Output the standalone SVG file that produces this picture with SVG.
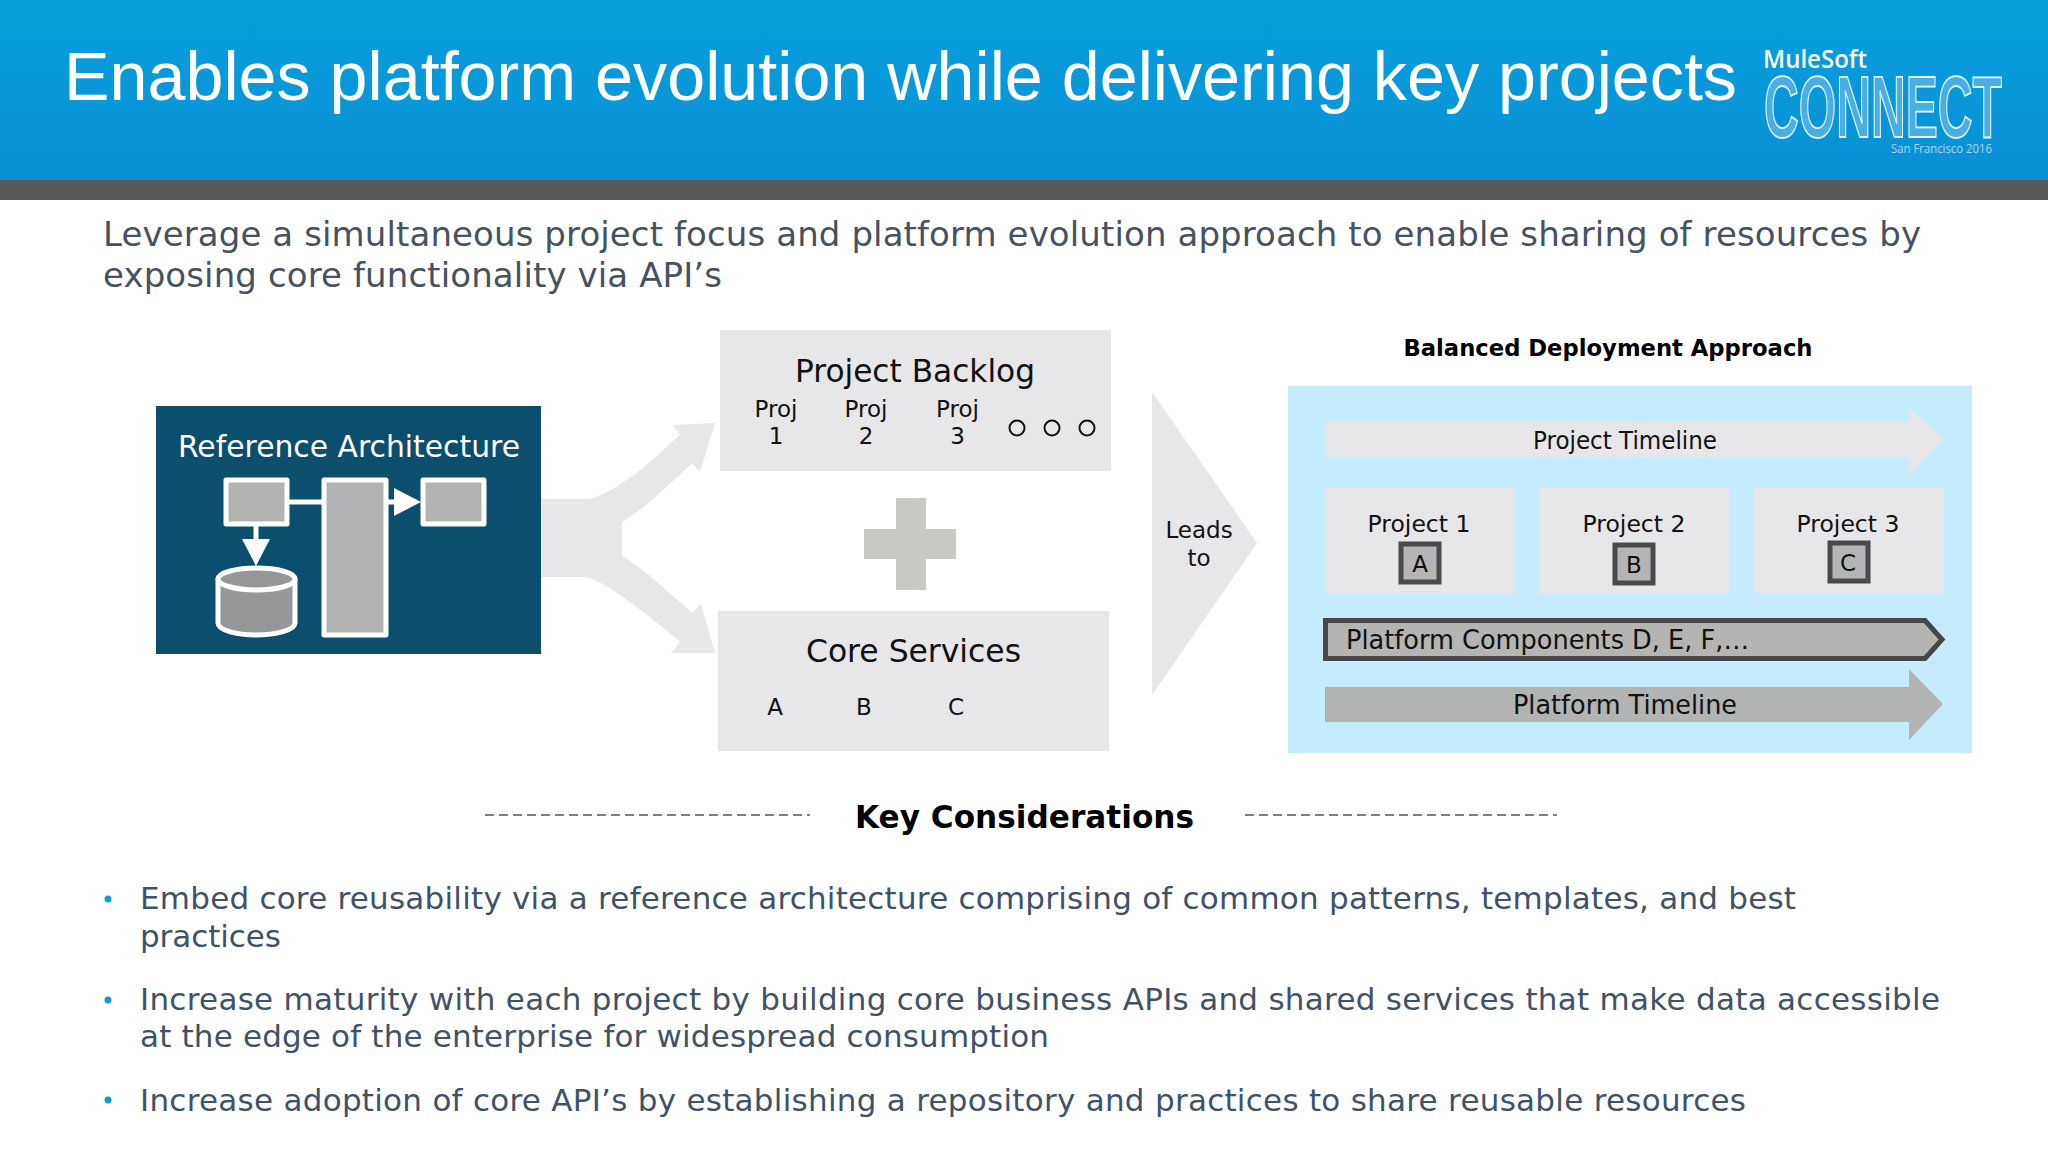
<svg xmlns="http://www.w3.org/2000/svg" width="2048" height="1152" viewBox="0 0 2048 1152">
<style>
text{font-family:"DejaVu Sans",Verdana,sans-serif;fill:#111}
.m{text-anchor:middle}
.sub{font-size:34px;fill:#47525f}
.body{font-size:31px;fill:#3f5266}
.bl{fill:#0a9ddc}
.g{fill:#e7e6e8}
.wb{stroke:#fff;stroke-width:5;stroke-linejoin:round}
.sq{fill:#b5b5b6;stroke:#4a4a4c;stroke-width:5}
.dash{stroke:#555;stroke-width:1.5;stroke-dasharray:9 5;fill:none}
</style>
<defs>
<linearGradient id="hdr" x1="0" y1="0" x2="0" y2="1"><stop offset="0" stop-color="#07a0dd"/><stop offset="1" stop-color="#0a90d6"/></linearGradient>
</defs>
<rect width="2048" height="1152" fill="#fff"/>
<g id="header">
<rect width="2048" height="180" fill="url(#hdr)"/>
<rect y="180" width="2048" height="20" fill="#59585a"/>
<text x="64" y="100" textLength="1673" lengthAdjust="spacingAndGlyphs" style="font-family:'Liberation Sans',Arial,sans-serif;font-size:68px;fill:#fff">Enables platform evolution while delivering key projects</text>
</g>
<g id="logo">
<text x="1763" y="68" textLength="104" lengthAdjust="spacingAndGlyphs" style="font-family:'Open Sans',sans-serif;font-weight:600;font-size:25px;fill:#fff">MuleSoft</text>
<text x="1764" y="137" textLength="238" lengthAdjust="spacingAndGlyphs" style="font-family:'Liberation Sans',Arial,sans-serif;font-weight:bold;font-size:88px;fill:#4aaee6;stroke:#e8f6fd;stroke-width:1.800">CONNECT</text>
<text x="1891" y="153" textLength="101" lengthAdjust="spacingAndGlyphs" style="font-family:'Open Sans',sans-serif;font-size:12.500px;fill:#a5d8f3">San Francisco 2016</text>
</g>
<g id="intro">
<text class="sub" x="103" y="246" textLength="1818">Leverage a simultaneous project focus and platform evolution approach to enable sharing of resources by</text>
<text class="sub" x="103" y="287" textLength="619">exposing core functionality via API’s</text>
</g>
<g id="connectors">
<path id="fork" class="g" d="M540 499H586C600 498 615 488 631 477C648 465 665 448 680 435L673 425L715 423L700 472L692 463C682 473 672 482 663 490C650 502 635 514 622 522V556C632 562 642 569 651 577C666 590 680 602 692 613L701 604L715 653L671 653L680 642C665 628 648 616 631 603C615 591 600 581 586 577H540Z"/>
</g>
<g id="reference-architecture">
<rect x="156" y="406" width="385" height="248" fill="#0b4e6d"/>
<text class="m" x="349" y="457" textLength="342" lengthAdjust="spacingAndGlyphs" style="font-size:30px;fill:#fff">Reference Architecture</text>
<path d="M289 502H322M388 502H396M256 526V541" stroke="#fff" stroke-width="5" fill="none"/>
<path d="M394 488L421 502L394 516ZM242 539H270L256 566Z" fill="#fff"/>
<rect class="wb" x="226" y="480" width="61" height="44" fill="#b3b4b2"/>
<rect class="wb" x="324" y="480" width="62" height="155" fill="#b2b1b3"/>
<rect class="wb" x="423" y="480" width="61" height="44" fill="#b3b4b2"/>
<path class="wb" d="M218 579V623C218 630 236 635 256 635C276 635 295 630 295 623V579Z" fill="#97979a"/>
<ellipse class="wb" cx="256.500" cy="579" rx="38.500" ry="11" fill="#97979a"/>
</g>
<g id="project-backlog">
<rect class="g" x="720" y="330" width="391" height="141"/>
<text class="m" x="915" y="382" textLength="240" lengthAdjust="spacingAndGlyphs" style="font-size:32px">Project Backlog</text>
<g style="font-size:23px">
<text class="m" x="776" y="417">Proj</text><text class="m" x="776" y="444">1</text>
<text class="m" x="866" y="417">Proj</text><text class="m" x="866" y="444">2</text>
<text class="m" x="957.500" y="417">Proj</text><text class="m" x="957.500" y="444">3</text>
</g>
<g fill="none" stroke="#111" stroke-width="2"><circle cx="1017" cy="428" r="7.500"/><circle cx="1052" cy="428" r="7.500"/><circle cx="1087" cy="428" r="7.500"/></g>
</g>
<g id="plus"><path d="M896 498H926V529H956V559H926V590H896V559H864V529H896Z" fill="#c9c9c3"/></g>
<g id="core-services">
<rect class="g" x="718" y="611" width="391" height="140"/>
<text class="m" x="913.500" y="662" textLength="215" lengthAdjust="spacingAndGlyphs" style="font-size:32px">Core Services</text>
<g style="font-size:23px"><text class="m" x="775" y="715">A</text><text class="m" x="864" y="715">B</text><text class="m" x="956" y="715">C</text></g>
</g>
<g id="leads-to">
<path class="g" d="M1152 392L1257 543L1152 695Z"/>
<text class="m" x="1199" y="538" style="font-size:23px">Leads</text>
<text class="m" x="1199" y="566" style="font-size:23px">to</text>
</g>
<g id="balanced-deployment">
<text class="m" x="1608" y="356" textLength="409" lengthAdjust="spacingAndGlyphs" style="font-size:23px;font-weight:bold;fill:#000">Balanced Deployment Approach</text>
<rect x="1288" y="386" width="684" height="367" fill="#c5ecfd"/>
<g id="project-timeline">
<path class="g" d="M1325 422H1909V407L1943 440L1909 474V458H1325Z"/>
<text class="m" x="1625" y="449" textLength="184" lengthAdjust="spacingAndGlyphs" style="font-size:24px">Project Timeline</text>
</g>
<g id="project-1"><rect class="g" x="1325" y="488" width="190" height="106"/><text class="m" x="1419" y="532" style="font-size:23.500px">Project 1</text><rect class="sq" x="1401" y="544" width="38" height="38"/><text class="m" x="1420" y="572" style="font-size:23px">A</text></g>
<g id="project-2"><rect class="g" x="1539" y="488" width="190" height="106"/><text class="m" x="1634" y="532" style="font-size:23.500px">Project 2</text><rect class="sq" x="1615" y="545" width="38" height="38"/><text class="m" x="1634" y="573" style="font-size:23px">B</text></g>
<g id="project-3"><rect class="g" x="1754" y="488" width="190" height="106"/><text class="m" x="1848" y="532" style="font-size:23.500px">Project 3</text><rect class="sq" x="1830" y="543" width="38" height="38"/><text class="m" x="1848" y="571" style="font-size:23px">C</text></g>
<g id="platform-components">
<path d="M1325.500 620.500H1925L1942 639.500L1925 658.500H1325.500Z" fill="#b4b5b3" stroke="#474749" stroke-width="5"/>
<text x="1346" y="649" textLength="403" lengthAdjust="spacingAndGlyphs" style="font-size:26.500px">Platform Components D, E, F,…</text>
</g>
<g id="platform-timeline">
<path d="M1325 687H1909V669L1943 704L1909 740V722H1325Z" fill="#b2b3b3"/>
<text class="m" x="1625" y="714" textLength="224" lengthAdjust="spacingAndGlyphs" style="font-size:26.500px">Platform Timeline</text>
</g>
</g>
<g id="key-considerations">
<path class="dash" d="M485 815H810M1245 815H1557"/>
<text class="m" x="1024.500" y="828" textLength="339" lengthAdjust="spacingAndGlyphs" style="font-size:32px;font-weight:bold;fill:#000">Key Considerations</text>
</g>
<g id="bullets">
<circle class="bl" cx="108" cy="899" r="3.500"/><circle class="bl" cx="108" cy="1000" r="3.500"/><circle class="bl" cx="108" cy="1100" r="3.500"/>
<text class="body" x="140" y="909" textLength="1656">Embed core reusability via a reference architecture comprising of common patterns, templates, and best</text>
<text class="body" x="140" y="947" textLength="141">practices</text>
<text class="body" x="140" y="1010" textLength="1800">Increase maturity with each project by building core business APIs and shared services that make data accessible</text>
<text class="body" x="140" y="1047" textLength="909">at the edge of the enterprise for widespread consumption</text>
<text class="body" x="140" y="1111" textLength="1606">Increase adoption of core API’s by establishing a repository and practices to share reusable resources</text>
</g>
</svg>
